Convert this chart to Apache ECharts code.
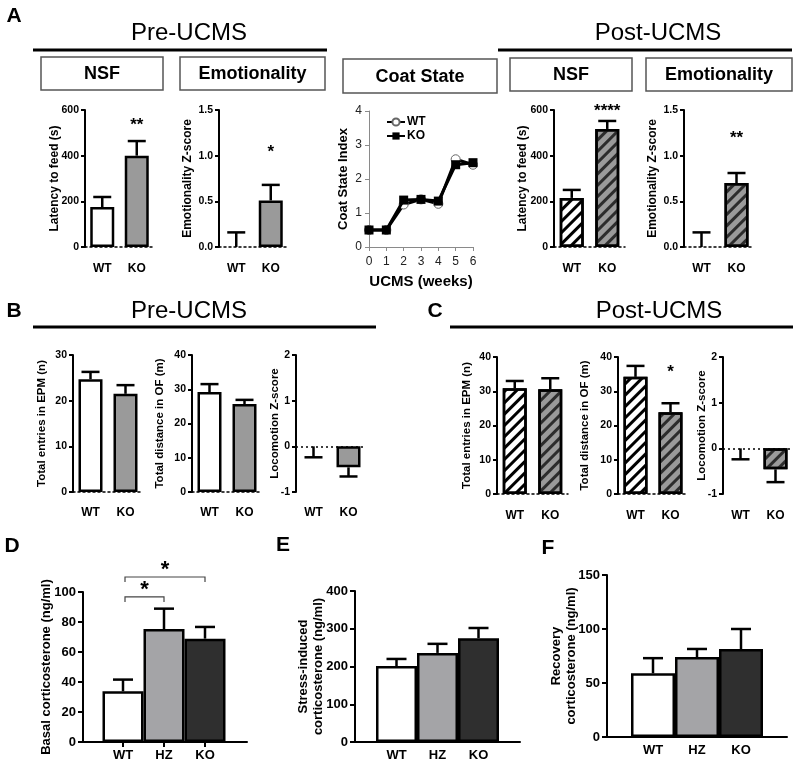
<!DOCTYPE html>
<html><head><meta charset="utf-8">
<script src="https://cdn.jsdelivr.net/npm/echarts@6/dist/echarts.min.js"></script>
<style>html,body{margin:0;padding:0;background:#fff}#c{width:800px;height:763px}</style>
</head><body><div id="c"></div>
<script>
// ---------- DATA ----------
const cats2 = ['WT', 'KO'];
const cats3 = ['WT', 'HZ', 'KO'];
// Panel A (Pre-UCMS)
const preNsf = [175, 400];          const preNsfErr = [219, 464];
const preNsfSig = ['', '**'];       const preNsfSigY = [null, 534];
const preEmo = [0, 0.51];           const preEmoErr = [0.16, 0.68];
const preEmoSig = ['', '*'];        const preEmoSigY = [null, 1.04];
// Coat state
const coatWeeks = [0, 1, 2, 3, 4, 5, 6];
const coatWT = [0.5, 0.5, 1.25, 1.4, 1.27, 2.58, 2.42];
const coatKO = [0.5, 0.5, 1.38, 1.4, 1.35, 2.42, 2.48];
// Panel A (Post-UCMS)
const postNsf = [215, 517];         const postNsfErr = [250, 552];
const postNsfSig = ['', '****'];    const postNsfSigY = [null, 596];
const postEmo = [0, 0.70];          const postEmoErr = [0.16, 0.81];
const postEmoSig = ['', '**'];      const postEmoSigY = [null, 1.19];
// Panel B (Pre-UCMS)
const preEpm = [24.7, 21.5];        const preEpmErr = [26.3, 23.4];
const preOf = [29.2, 25.7];         const preOfErr = [31.5, 26.9];
const preLoc = [0, -0.46];          const preLocErr = [-0.24, -0.66];
// Panel C (Post-UCMS)
const postEpm = [30.9, 30.6];       const postEpmErr = [33.0, 33.8];
const postOf = [34.2, 23.9];        const postOfErr = [37.4, 26.5];
const postOfSig = ['', '*'];        const postOfSigY = [null, 35.6];
const postLoc = [0, -0.46];         const postLocErr = [-0.24, -0.74];
// Panels D, E, F
const basal = [33.8, 75.3, 68.9];   const basalErr = [41.6, 88.9, 76.7];
const basalBrFrom = [0, 0];         const basalBrTo = [1, 2];
const basalBrY = [96.7, 110];       const basalBrSig = ['*', '*'];
const stress = [201, 236, 275];     const stressErr = [220, 260, 302];
const recovery = [59, 74, 81.5];    const recoveryErr = [73, 81.5, 100];

// ---------- STYLE ----------
const FF = '"Liberation Sans", Arial, Helvetica, sans-serif';
const GRAY = '#9a9a9a';
const hatchW = {symbol: 'rect', symbolSize: 1, dashArrayX: [1, 0], dashArrayY: [2.6, 4.2], rotation: -Math.PI / 4, color: '#000'};
const hatchK = {symbol: 'rect', symbolSize: 1, dashArrayX: [1, 0], dashArrayY: [2.6, 4.2], rotation: -Math.PI / 4, color: '#2c2c2c'};

const grids = [], xAxes = [], yAxes = [], series = [], graphics = [];

function errSeries(gi, vals, ends, cap, lw) {
  return {
    type: 'custom', xAxisIndex: gi, yAxisIndex: gi, z: 3, clip: false, silent: true,
    data: vals.map((v, i) => [i, v, ends[i]]),
    renderItem: (p, api) => {
      const a = api.coord([api.value(0), api.value(1)]);
      const b = api.coord([api.value(0), api.value(2)]);
      return {type: 'group', children: [
        {type: 'line', shape: {x1: a[0], y1: a[1], x2: b[0], y2: b[1]}, style: {stroke: '#000', lineWidth: lw}},
        {type: 'line', shape: {x1: b[0] - cap, y1: b[1], x2: b[0] + cap, y2: b[1]}, style: {stroke: '#000', lineWidth: lw}}
      ]};
    }
  };
}
function sigSeries(gi, labels, ys, size) {
  const d = labels.map((s, i) => [i, ys[i], s]).filter(r => r[2]);
  return {
    type: 'custom', xAxisIndex: gi, yAxisIndex: gi, z: 4, clip: false, silent: true,
    data: d.map(r => [r[0], r[1]]),
    renderItem: (p, api) => {
      const c = api.coord([api.value(0), api.value(1)]);
      return {type: 'text', x: c[0], y: c[1], style: {text: d[p.dataIndex][2], fontSize: size, fontWeight: 'bold', fontFamily: FF, fill: '#000', align: 'center', verticalAlign: 'middle'}};
    }
  };
}

function smallBar(o) {
  const gi = grids.length;
  grids.push({left: o.left, top: o.top, width: o.width, height: o.height});
  xAxes.push({
    gridIndex: gi, type: 'category', data: cats2,
    axisLine: {show: !o.zeroLine, onZero: false, lineStyle: {type: [2, 3], color: '#000', width: 1.5}},
    axisTick: {show: false}, splitLine: {show: false},
    axisLabel: {fontFamily: FF, fontWeight: 'bold', fontSize: 12, color: '#000', margin: o.labelMargin || 16}
  });
  yAxes.push({
    gridIndex: gi, type: 'value', min: o.min, max: o.max, interval: o.interval,
    splitLine: {show: false},
    axisLine: {show: true, lineStyle: {color: '#000', width: 2}},
    axisTick: {show: true, length: 4, lineStyle: {color: '#000', width: 2}},
    axisLabel: {fontFamily: FF, fontWeight: 'bold', fontSize: 10.5, color: '#000', margin: 6,
      formatter: o.fmt || (v => String(v))},
    name: o.name, nameLocation: 'middle', nameGap: o.nameGap, nameMoveOverlap: false,
    nameTextStyle: {fontFamily: FF, fontWeight: 'bold', fontSize: o.nameSize || 12, color: '#000'}
  });
  const bar = {
    type: 'bar', xAxisIndex: gi, yAxisIndex: gi, barWidth: 24, z: 2, silent: true,
    data: o.vals.map((v, i) => ({
      value: v,
      itemStyle: Object.assign({color: o.fills[i], borderColor: '#000', borderWidth: v === 0 ? 0 : 2.5},
        o.decals && o.decals[i] ? {decal: o.decals[i]} : {})
    }))
  };
  if (o.zeroLine) {
    bar.markLine = {silent: true, symbol: 'none', label: {show: false},
      lineStyle: {type: [2, 3], color: '#000', width: 1.5}, data: [{yAxis: 0}]};
  }
  series.push(bar);
  series.push(errSeries(gi, o.vals, o.errs, 9, 2.5));
  if (o.sig) series.push(sigSeries(gi, o.sig, o.sigY, 17));
  return gi;
}

function groupBar(o) {
  // axis frame grid
  const ga = grids.length;
  grids.push({left: o.axLeft, top: o.top, width: o.axWidth, height: o.height});
  xAxes.push({gridIndex: ga, type: 'value', min: 0, max: 1,
    axisLine: {show: true, onZero: false, lineStyle: {color: '#000', width: 2}},
    axisTick: {show: false}, axisLabel: {show: false}, splitLine: {show: false}});
  yAxes.push({gridIndex: ga, type: 'value', min: o.min, max: o.max, interval: o.interval,
    splitLine: {show: false},
    axisLine: {show: true, lineStyle: {color: '#000', width: 2}},
    axisTick: {show: true, length: 5, lineStyle: {color: '#000', width: 2}},
    axisLabel: {fontFamily: FF, fontWeight: 'bold', fontSize: 13, color: '#000', margin: 7},
    name: o.name, nameLocation: 'middle', nameGap: o.nameGap, nameMoveOverlap: false,
    nameTextStyle: {fontFamily: FF, fontWeight: 'bold', fontSize: 13, color: '#000', lineHeight: 15}});
  // data grid
  const gi = grids.length;
  grids.push({left: o.left, top: o.top, width: o.width, height: o.height});
  xAxes.push({gridIndex: gi, type: 'category', data: cats3,
    axisLine: {show: false}, splitLine: {show: false},
    axisTick: {show: !!o.ticks, alignWithLabel: true, length: 5, lineStyle: {color: '#000', width: 2}},
    axisLabel: {fontFamily: FF, fontWeight: 'bold', fontSize: 13, color: '#000', margin: o.labelMargin}});
  yAxes.push({gridIndex: gi, type: 'value', min: o.min, max: o.max, interval: o.interval, show: false});
  const fills = ['#ffffff', '#a4a4a7', '#2f2f2f'];
  series.push({type: 'bar', xAxisIndex: gi, yAxisIndex: gi, barCategoryGap: '0%', z: 2, silent: true,
    data: o.vals.map((v, i) => ({value: v, itemStyle: {color: fills[i], borderColor: '#000', borderWidth: 2.5}}))});
  series.push(errSeries(gi, o.vals, o.errs, 10, 2.5));
  return gi;
}

// ---------- PANEL A ----------
const TOPA = 110, HA = 137;
smallBar({left: 85, top: TOPA, width: 69, height: HA, min: 0, max: 600, interval: 200,
  name: 'Latency to feed (s)', nameGap: 24, vals: preNsf, errs: preNsfErr, fills: ['#fff', GRAY],
  sig: preNsfSig, sigY: preNsfSigY});
smallBar({left: 219, top: TOPA, width: 69, height: HA, min: 0, max: 1.5, interval: 0.5,
  name: 'Emotionality Z-score', nameGap: 25, fmt: v => v.toFixed(1), vals: preEmo, errs: preEmoErr,
  fills: ['#fff', GRAY], sig: preEmoSig, sigY: preEmoSigY});
smallBar({left: 554, top: TOPA, width: 71, height: HA, min: 0, max: 600, interval: 200,
  name: 'Latency to feed (s)', nameGap: 25, vals: postNsf, errs: postNsfErr, fills: ['#fff', GRAY],
  decals: [hatchW, hatchK], sig: postNsfSig, sigY: postNsfSigY});
smallBar({left: 684, top: TOPA, width: 70, height: HA, min: 0, max: 1.5, interval: 0.5,
  name: 'Emotionality Z-score', nameGap: 25, fmt: v => v.toFixed(1), vals: postEmo, errs: postEmoErr,
  fills: ['#fff', GRAY], decals: [hatchW, hatchK], sig: postEmoSig, sigY: postEmoSigY});

// Coat state line chart
const gc = grids.length;
grids.push({left: 369, top: 111, width: 104, height: 136});
xAxes.push({gridIndex: gc, type: 'value', min: 0, max: 6, interval: 1,
  axisLine: {show: true, onZero: false, lineStyle: {color: '#8a8a8a', width: 1}},
  axisTick: {show: true, length: 4, lineStyle: {color: '#8a8a8a'}},
  splitLine: {show: false},
  axisLabel: {fontFamily: FF, fontSize: 12, color: '#222', margin: 9},
  name: 'UCMS (weeks)', nameLocation: 'middle', nameGap: 27, nameMoveOverlap: false,
  nameTextStyle: {fontFamily: FF, fontWeight: 'bold', fontSize: 15, color: '#000'}});
yAxes.push({gridIndex: gc, type: 'value', min: 0, max: 4, interval: 1,
  axisLine: {show: true, lineStyle: {color: '#8a8a8a', width: 1}},
  axisTick: {show: true, length: 4, lineStyle: {color: '#8a8a8a'}},
  splitLine: {show: false},
  axisLabel: {fontFamily: FF, fontSize: 12, color: '#222', margin: 7},
  name: 'Coat State Index', nameLocation: 'middle', nameGap: 19, nameMoveOverlap: false,
  nameTextStyle: {fontFamily: FF, fontWeight: 'bold', fontSize: 13, color: '#000'}});
series.push({name: 'WT', type: 'line', xAxisIndex: gc, yAxisIndex: gc, z: 3,
  data: coatWeeks.map((w, i) => [w, coatWT[i]]), symbol: 'circle', symbolSize: 9,
  lineStyle: {color: '#000', width: 3}, itemStyle: {color: '#fff', borderColor: '#666', borderWidth: 1}});
series.push({name: 'KO', type: 'line', xAxisIndex: gc, yAxisIndex: gc, z: 4,
  data: coatWeeks.map((w, i) => [w, coatKO[i]]), symbol: 'rect', symbolSize: 9,
  lineStyle: {color: '#000', width: 3}, itemStyle: {color: '#000'}});

// ---------- PANEL B ----------
const TOPB = 355, HB = 137;
smallBar({left: 73, top: TOPB, width: 70, height: HB, min: 0, max: 30, interval: 10,
  name: 'Total entries in EPM (n)', nameGap: 25, nameSize: 11.5, vals: preEpm, errs: preEpmErr, fills: ['#fff', GRAY], labelMargin: 15});
smallBar({left: 192, top: TOPB, width: 70, height: HB, min: 0, max: 40, interval: 10,
  name: 'Total distance in OF (m)', nameGap: 26, nameSize: 11.5, vals: preOf, errs: preOfErr, fills: ['#fff', GRAY], labelMargin: 15});
smallBar({left: 296, top: TOPB, width: 70, height: HB, min: -1, max: 2, interval: 1, zeroLine: true,
  name: 'Locomotion Z-score', nameGap: 15, nameSize: 11.5, vals: preLoc, errs: preLocErr, fills: ['#fff', GRAY], labelMargin: 15});

// ---------- PANEL C ----------
const TOPC = 357, HC = 137;
smallBar({left: 497, top: TOPC, width: 71, height: HC, min: 0, max: 40, interval: 10,
  name: 'Total entries in EPM (n)', nameGap: 24, nameSize: 11.5, vals: postEpm, errs: postEpmErr,
  fills: ['#fff', GRAY], decals: [hatchW, hatchK], labelMargin: 16});
smallBar({left: 618, top: TOPC, width: 70, height: HC, min: 0, max: 40, interval: 10,
  name: 'Total distance in OF (m)', nameGap: 27, nameSize: 11.5, vals: postOf, errs: postOfErr,
  fills: ['#fff', GRAY], decals: [hatchW, hatchK], sig: postOfSig, sigY: postOfSigY, labelMargin: 16});
smallBar({left: 723, top: TOPC, width: 70, height: HC, min: -1, max: 2, interval: 1, zeroLine: true,
  name: 'Locomotion Z-score', nameGap: 15, nameSize: 11.5, vals: postLoc, errs: postLocErr,
  fills: ['#fff', GRAY], decals: [null, hatchK], labelMargin: 16});

// ---------- PANELS D, E, F ----------
const gD = groupBar({axLeft: 83, axWidth: 164, left: 102.5, width: 123, top: 592, height: 150,
  min: 0, max: 100, interval: 20, name: 'Basal corticosterone (ng/ml)', nameGap: 29,
  vals: basal, errs: basalErr, ticks: true, labelMargin: 7});
series.push({type: 'custom', xAxisIndex: gD, yAxisIndex: gD, z: 5, clip: false, silent: true,
  data: basalBrY.map((y, i) => [basalBrFrom[i], basalBrTo[i], y]),
  renderItem: (p, api) => {
    const a = api.coord([api.value(0), api.value(2)]);
    const b = api.coord([api.value(1), api.value(2)]);
    const x1 = a[0] + 2, x2 = b[0], y = a[1];
    return {type: 'group', children: [
      {type: 'polyline', shape: {points: [[x1, y + 5], [x1, y], [x2, y], [x2, y + 5]]}, style: {stroke: '#444', lineWidth: 1.2, fill: null}},
      {type: 'text', x: (x1 + x2) / 2, y: y - 7, style: {text: basalBrSig[p.dataIndex], fontSize: 22, fontWeight: 'bold', fontFamily: FF, fill: '#000', align: 'center', verticalAlign: 'middle'}}
    ]};
  }});
groupBar({axLeft: 355, axWidth: 165, left: 376, width: 123, top: 591, height: 151,
  min: 0, max: 400, interval: 100, name: 'Stress-induced\ncorticosterone (ng/ml)', nameGap: 29,
  vals: stress, errs: stressErr, labelMargin: 7});
groupBar({axLeft: 607, axWidth: 180, left: 631, width: 132, top: 575, height: 162,
  min: 0, max: 150, interval: 50, name: 'Recovery\ncorticosterone (ng/ml)', nameGap: 28,
  vals: recovery, errs: recoveryErr, labelMargin: 7});

// ---------- DECORATION ----------
function gText(text, x, y, size, weight) {
  graphics.push({type: 'text', x: x, y: y, silent: true,
    style: {text: text, fontSize: size, fontWeight: weight, fontFamily: FF, fill: '#000', align: 'center', verticalAlign: 'middle'}});
}
function gLine(x1, y1, x2, y2, w) {
  graphics.push({type: 'line', silent: true, shape: {x1: x1, y1: y1, x2: x2, y2: y2}, style: {stroke: '#000', lineWidth: w}});
}
function gBox(x, y, w, h, label) {
  graphics.push({type: 'rect', silent: true, shape: {x: x, y: y, width: w, height: h}, style: {fill: '#fff', stroke: '#555', lineWidth: 1.5}});
  gText(label, x + w / 2, y + h / 2 + 1, 18, 'bold');
}
gText('A', 14, 16, 21, 'bold');
gText('B', 14, 311, 21, 'bold');
gText('C', 435, 311, 21, 'bold');
gText('D', 12, 546, 21, 'bold');
gText('E', 283, 545, 21, 'bold');
gText('F', 548, 548, 21, 'bold');
gText('Pre-UCMS', 189, 33, 24, 'normal');
gText('Post-UCMS', 658, 33, 24, 'normal');
gText('Pre-UCMS', 189, 311, 24, 'normal');
gText('Post-UCMS', 659, 311, 24, 'normal');
gLine(33, 50, 327, 50, 3);
gLine(498, 50, 792, 50, 3);
gLine(33, 327, 376, 327, 3);
gLine(450, 327, 793, 327, 3);
gBox(41, 57, 122, 33, 'NSF');
gBox(180, 57, 145, 33, 'Emotionality');
gBox(343, 59, 154, 34, 'Coat State');
gBox(510, 58, 122, 33, 'NSF');
gBox(646, 58, 146, 33, 'Emotionality');

const chart = echarts.init(document.getElementById('c'), null, {renderer: 'canvas'});
chart.setOption({
  animation: false,
  backgroundColor: '#fff',
  textStyle: {fontFamily: FF},
  grid: grids, xAxis: xAxes, yAxis: yAxes, series: series,
  legend: {data: ['WT', 'KO'], left: 381, top: 111, orient: 'vertical', itemWidth: 18, itemHeight: 9, itemGap: 2,
    textStyle: {fontFamily: FF, fontWeight: 'bold', fontSize: 12, color: '#000', padding: [0, 0, 0, -3]}, selectedMode: false},
  graphic: graphics
});
</script></body></html>
